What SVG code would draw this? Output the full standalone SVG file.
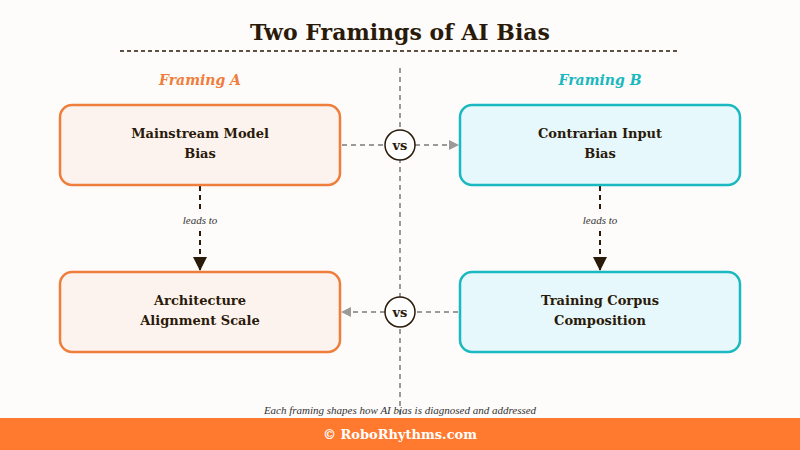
<svg xmlns="http://www.w3.org/2000/svg" width="800" height="450" viewBox="0 0 800 450">
<style>
.t{font-family:"DejaVu Serif","Liberation Serif",serif;font-weight:bold;fill:#2a1a0a}
.a{fill:#fdf3ee;stroke:#ef7d3c;stroke-width:2.5}
.b{fill:#e6f8fb;stroke:#1ab8c0;stroke-width:2.5}
.n{font-family:"DejaVu Serif","Liberation Serif",serif;font-weight:bold;font-size:13px;fill:#2a1a0a;text-anchor:middle}
.g{stroke:#9a9a98;stroke-width:2;stroke-dasharray:5 4;fill:none}
.d{stroke:#2a1a0a;stroke-width:2;stroke-dasharray:5 4;fill:none}
.i{font-family:"Liberation Serif",serif;font-style:italic;font-size:11px;fill:#333;text-anchor:middle}
</style>
<defs>
<marker id="ga" markerWidth="10" markerHeight="10" refX="9" refY="5" orient="auto" markerUnits="userSpaceOnUse" viewBox="0 0 10 10"><path d="M0,0L10,5L0,10z" fill="#9a9a98"/></marker>
<marker id="da" markerWidth="14" markerHeight="14" refX="13" refY="7" orient="auto" markerUnits="userSpaceOnUse" viewBox="0 0 14 14"><path d="M0,0L14,7L0,14z" fill="#2a1a0a"/></marker>
</defs>
<rect width="800" height="450" fill="#fefcfa"/>
<text x="400" y="40" class="t" font-size="22" text-anchor="middle">Two Framings of AI Bias</text>
<line x1="120" y1="51" x2="680" y2="51" stroke="#2a1a0a" stroke-width="1.5" stroke-dasharray="4 3"/>
<text x="200" y="85" font-family="DejaVu Serif,serif" font-weight="bold" font-style="italic" font-size="14" fill="#ef7d3c" text-anchor="middle">Framing A</text>
<text x="600" y="85" font-family="DejaVu Serif,serif" font-weight="bold" font-style="italic" font-size="14" fill="#1ab8c0" text-anchor="middle">Framing B</text>
<g id="connectors">
<line class="g" x1="400" y1="68" x2="400" y2="415"/>
<line class="g" x1="342" y1="145" x2="385" y2="145"/>
<line class="g" x1="415" y1="145" x2="458" y2="145" marker-end="url(#ga)"/>
<line class="g" x1="458" y1="312" x2="415" y2="312"/>
<line class="g" x1="385" y1="312" x2="342" y2="312" marker-end="url(#ga)"/>
<line class="d" x1="200" y1="186" x2="200" y2="270" marker-end="url(#da)"/>
<line class="d" x1="600" y1="186" x2="600" y2="270" marker-end="url(#da)"/>
<rect x="175" y="212" width="50" height="16" fill="#fefcfa"/>
<rect x="575" y="212" width="50" height="16" fill="#fefcfa"/>
<text class="i" x="200" y="224">leads to</text>
<text class="i" x="600" y="224">leads to</text>
</g>
<g id="vs1"><circle cx="400" cy="145" r="15" fill="#fff" stroke="#2a1a0a" stroke-width="1.5"/><text class="n" x="400" y="150" font-size="12">vs</text></g>
<g id="vs2"><circle cx="400" cy="312" r="15" fill="#fff" stroke="#2a1a0a" stroke-width="1.5"/><text class="n" x="400" y="317" font-size="12">vs</text></g>
<g id="a1"><rect class="a" x="60" y="105" width="280" height="80" rx="12"/><text class="n" x="200" y="138">Mainstream Model</text><text class="n" x="200" y="158">Bias</text></g>
<g id="b1"><rect class="b" x="460" y="105" width="280" height="80" rx="12"/><text class="n" x="600" y="138">Contrarian Input</text><text class="n" x="600" y="158">Bias</text></g>
<g id="a2"><rect class="a" x="60" y="272" width="280" height="80" rx="12"/><text class="n" x="200" y="305">Architecture</text><text class="n" x="200" y="325">Alignment Scale</text></g>
<g id="b2"><rect class="b" x="460" y="272" width="280" height="80" rx="12"/><text class="n" x="600" y="305">Training Corpus</text><text class="n" x="600" y="325">Composition</text></g>
<text class="i" x="400" y="414" font-size="10.5">Each framing shapes how AI bias is diagnosed and addressed</text>
<rect x="0" y="418" width="800" height="32" fill="#ff7a2e"/>
<text x="400" y="439" font-family="DejaVu Serif,serif" font-weight="bold" font-size="13" fill="#fff" text-anchor="middle">© RoboRhythms.com</text>
</svg>
